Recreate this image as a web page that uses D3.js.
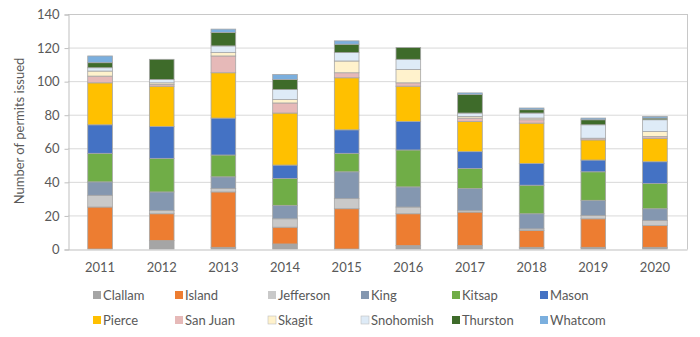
<!DOCTYPE html>
<html><head><meta charset="utf-8">
<script src="https://cdn.jsdelivr.net/npm/d3@7"></script>
<style>body{margin:0;background:#fff;}svg{display:block;font-family:Lato,"Open Sans",sans-serif;}</style>
</head><body><svg id="c" width="700" height="337"></svg>
<script>
const years = ["2011","2012","2013","2014","2015","2016","2017","2018","2019","2020"];
const counties = ["Clallam","Island","Jefferson","King","Kitsap","Mason","Pierce","San Juan","Skagit","Snohomish","Thurston","Whatcom"];
const Clallam   = [0,5,1,3,0,2,2,1,1,1];
const Island    = [25,16,33,10,24,19,20,10,17,13];
const Jefferson = [7,2,2,5,6,4,1,1,2,3];
const King      = [8,11,7,8,16,12,13,9,9,7];
const Kitsap    = [17,20,13,16,11,22,12,17,17,15];
const Mason     = [17,19,22,8,14,17,10,13,7,13];
const Pierce    = [25,24,27,31,31,21,18,24,12,14];
const SanJuan   = [4,1,10,6,3,2,2,2,1,1];
const Skagit    = [3,1,2,2,7,8,1,1,0,3];
const Snohomish = [2,2,4,6,5,6,2,3,8,7];
const Thurston  = [3,12,8,6,5,7,11,2,3,1];
const Whatcom   = [4,0,2,3,2,0,1,1,1,1];
const yTicks = [0,20,40,60,80,100,120,140];
const colors = ["#A5A5A5","#ED7D31","#C9C9C9","#8497B0","#70AD47","#4472C4","#FFC000","#E6B9B8","#FFF2CC","#DEEBF7","#3E6B2A","#7BAFDE"];

const seriesArrays = [Clallam,Island,Jefferson,King,Kitsap,Mason,Pierce,SanJuan,Skagit,Snohomish,Thurston,Whatcom];
const table = years.map((y,i)=>{const o={year:y}; counties.forEach((c,j)=>o[c]=seriesArrays[j][i]); return o;});
const stacked = d3.stack().keys(counties)(table);

const svg = d3.select("#c");
const m = {l:68, r:687, t:14, b:249};
const x = d3.scaleBand().domain(years).range([m.l,m.r]).paddingInner(0.6).paddingOuter(0.32);
const y = d3.scaleLinear().domain([0,140]).range([m.b,m.t]);
const txt = "#595959";

// gridlines
svg.append("g").selectAll("line").data(yTicks.filter(t=>t>0)).join("line")
  .attr("x1",m.l).attr("x2",m.r).attr("y1",d=>y(d)+0.5).attr("y2",d=>y(d)+0.5)
  .attr("stroke",d=>d===140?"#C8C8C8":"#D9D9D9").attr("stroke-width",1);
// right border
svg.append("line").attr("x1",m.r+0.5).attr("x2",m.r+0.5).attr("y1",m.t).attr("y2",m.b+0.5).attr("stroke","#C8C8C8");

// y axis
const ya = svg.append("g").attr("transform",`translate(${m.l+0.5},0.5)`)
  .call(d3.axisLeft(y).tickValues(yTicks).tickSize(4).tickPadding(5));
ya.select(".domain").attr("stroke","#BFBFBF");
ya.selectAll(".tick line").attr("stroke","#BFBFBF");
ya.selectAll("text").attr("fill",txt).attr("font-size",13).attr("font-family","Lato,'Open Sans',sans-serif");

// bars
svg.append("g").selectAll("g").data(stacked).join("g").attr("fill",(d,i)=>colors[i])
  .selectAll("rect").data(d=>d).join("rect")
  .attr("x",d=>x(d.data.year)).attr("width",x.bandwidth())
  .attr("y",d=>y(d[1])).attr("height",d=>Math.max(0,y(d[0])-y(d[1])))
  .attr("stroke",d=>(d[1]-d[0])>0?"#A6A6A6":"none").attr("stroke-width",0.8);

// x axis
const xa = svg.append("g").attr("transform",`translate(0,${m.b+0.5})`)
  .call(d3.axisBottom(x).tickSize(0).tickPadding(13));
xa.select(".domain").attr("stroke","#BFBFBF");
xa.selectAll("text").attr("fill",txt).attr("font-size",13).attr("font-family","Lato,'Open Sans',sans-serif");

// y label
svg.append("text").attr("transform","translate(24,131) rotate(-90)").attr("text-anchor","middle")
  .attr("fill",txt).attr("font-size",13).text("Number of permits issued");

// legend
const legCols = [93,175,268,361,452,540];
const legRows = [295,320];
const leg = svg.append("g").selectAll("g").data(counties).join("g")
  .attr("transform",(d,i)=>`translate(${legCols[i%6]},${legRows[Math.floor(i/6)]})`);
leg.append("rect").attr("x",0).attr("y",-4).attr("width",8).attr("height",8).attr("fill",(d,i)=>colors[i])
  .attr("stroke",(d,i)=>i===9||i===8?"#BFBFBF":"none").attr("stroke-width",0.6);
leg.append("text").attr("x",10).attr("y",0).attr("dy","0.35em").attr("fill",txt).attr("font-size",13).text(d=>d);
</script></body></html>
